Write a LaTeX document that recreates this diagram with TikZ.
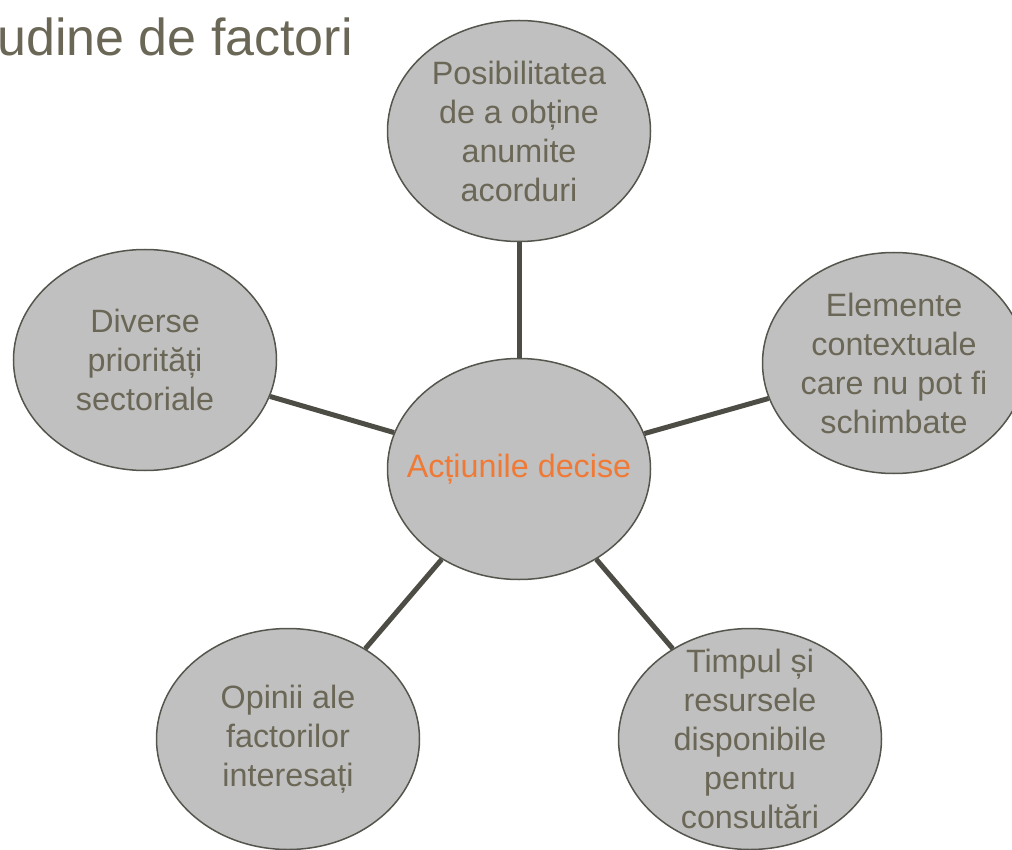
\documentclass[tikz,border=0pt]{standalone}
\usepackage{fontspec}
\setmainfont{Liberation Sans}
\usetikzlibrary{shapes.geometric}
\definecolor{fillgray}{HTML}{C0C0C0}
\definecolor{edgegray}{HTML}{55554E}
\definecolor{linkgray}{HTML}{4D4D46}
\definecolor{txtgray}{HTML}{6B6757}
\definecolor{orangetxt}{HTML}{F07A35}
\tikzset{
  bubble/.style={ellipse, draw=edgegray, line width=1.5pt, fill=fillgray,
    minimum width=263pt, minimum height=221pt, inner xsep=-40pt, inner ysep=-40pt, align=center,
    text=txtgray, font=\fontsize{32.3}{39}\selectfont},
  link/.style={draw=linkgray, line width=5pt},
  titletxt/.style={anchor=base west, inner sep=0pt, text=txtgray,
    font=\fontsize{52}{60}\selectfont}
}
\begin{document}
\begin{tikzpicture}[x=1pt,y=-1pt]
\useasboundingbox (0,0) rectangle (1012,850);
\clip (0,0) rectangle (1012,850);
\node[titletxt] (title) at (-3,56) {udine de factori};
\node[bubble] (c) at (519,469) {\textcolor{orangetxt}{Acțiunile decise}};
\node[bubble] (t) at (519,131) {Posibilitatea\\de a obține\\anumite\\acorduri};
\node[bubble] (l) at (145,360) {Diverse\\priorități\\sectoriale};
\node[bubble] (r) at (894,363) {Elemente\\contextuale\\care nu pot fi\\schimbate};
\node[bubble] (bl) at (288,739) {Opinii ale\\factorilor\\interesați};
\node[bubble] (br) at (750,739) {Timpul și\\resursele\\disponibile\\pentru\\consultări};
\draw[link] (c) -- (t);
\draw[link] (c) -- (l);
\draw[link] (c) -- (r);
\draw[link] (c) -- (bl);
\draw[link] (c) -- (br);
\end{tikzpicture}
\end{document}
